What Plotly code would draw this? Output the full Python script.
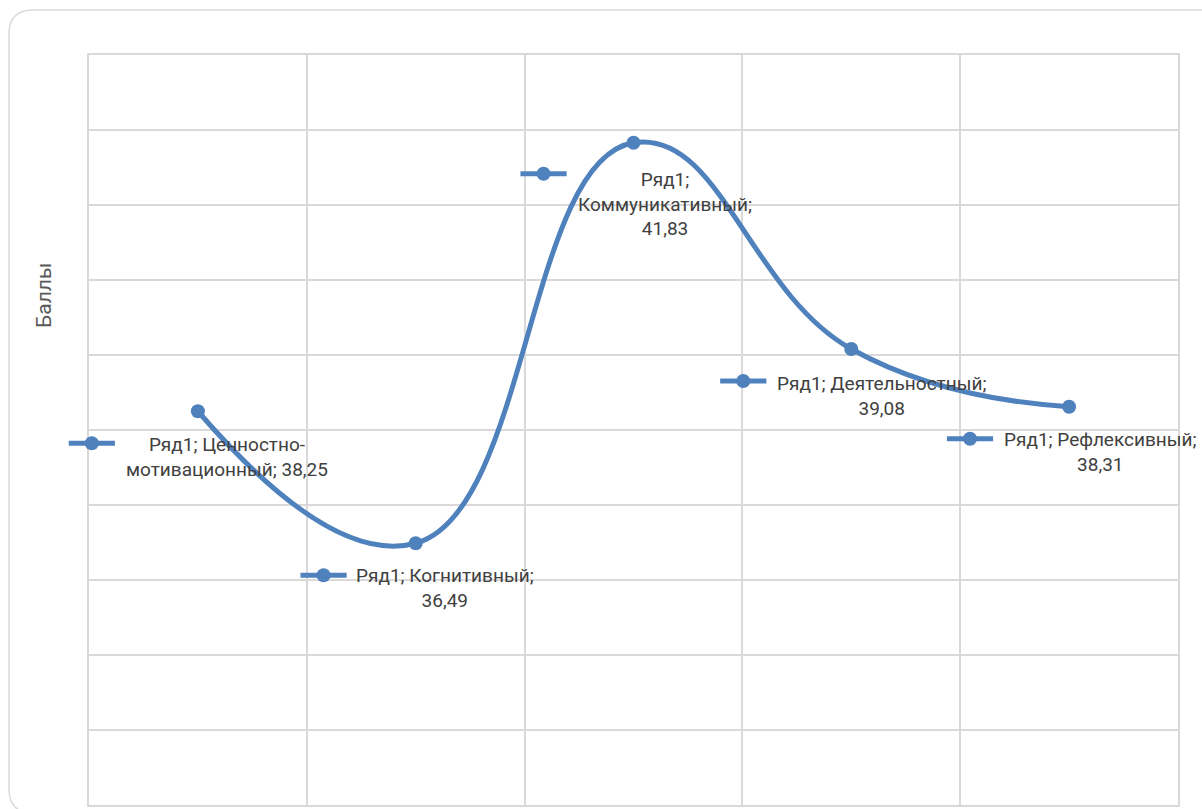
import plotly.graph_objects as go

# ---- data ----
series_name = "Ряд1"
categories = ["Ценностно-мотивационный", "Когнитивный", "Коммуникативный",
              "Деятельностный", "Рефлексивный"]
values = [38.25, 36.49, 41.83, 39.08, 38.31]
y_title = "Баллы"

# ---- styles / label placement ----
BLUE = "#4F81BD"
GRID = "#D9D9D9"
TEXT = "#404040"
FONT = "Roboto"
W, H = 1202, 809
ML, MR, MT, MB = 89, 24, 55, 4
wrap_widths = [20, 20, 16, 21, 20]
# legend-key offsets from each point, in axis units (x: categories, y: points)
key_dx = [-0.487, -0.423, -0.413, -0.496, -0.455]
key_dy = [-0.427, -0.427, -0.413, -0.427, -0.427]
# text offsets from each point, in pixels
text_dx = [29, 29, 31, 30, 31]
text_dy = [46, 45, 61, 47, 45]

pw, ph = W - ML - MR, H - MT - MB


def px_x(p):
    return (p - ML) / pw


def px_y(p):
    return (H - MB - p) / ph


def wrap(text, width):
    tokens = []
    for word in text.split(" "):
        parts = word.split("-")
        for k, part in enumerate(parts):
            tokens.append((part + ("-" if k < len(parts) - 1 else ""), k == 0))
    lines, cur = [], ""
    for tok, spaced in tokens:
        cand = (cur + (" " if spaced and cur else "") + tok) if cur else tok
        if len(cand) <= width or not cur:
            cur = cand
        else:
            lines.append(cur)
            cur = tok
    lines.append(cur)
    return "<br>".join(lines)


xs = list(range(len(categories)))

fig = go.Figure()
fig.add_trace(go.Scatter(
    x=xs, y=values, mode="lines+markers",
    name=series_name,
    line=dict(color=BLUE, width=5, shape="spline", smoothing=1.3),
    marker=dict(color=BLUE, size=14),
    hoverinfo="skip",
))

# legend keys inside the data labels
kx = [x + d for x, d in zip(xs, key_dx)]
ky = [v + d for v, d in zip(values, key_dy)]
fig.add_trace(go.Scatter(
    x=kx, y=ky, mode="markers", cliponaxis=False, hoverinfo="skip",
    marker=dict(symbol="line-ew", size=33, color=BLUE,
                line=dict(color=BLUE, width=5)),
))
fig.add_trace(go.Scatter(
    x=kx, y=ky, mode="markers", cliponaxis=False, hoverinfo="skip",
    marker=dict(symbol="circle", size=14, color=BLUE),
))

annotations = []
for i, (cat, v) in enumerate(zip(categories, values)):
    val_str = f"{v:.2f}".replace(".", ",")
    label = wrap(f"{series_name}; {cat}; {val_str}", wrap_widths[i])
    annotations.append(dict(
        x=xs[i], y=v, xref="x", yref="y", text=label, showarrow=False,
        xshift=text_dx[i], yshift=-text_dy[i], align="center",
        xanchor="center", yanchor="middle",
        font=dict(family=FONT, size=19, color=TEXT),
    ))

# y-axis title
annotations.append(dict(
    x=px_x(44), y=px_y(296), xref="paper", yref="paper", text=y_title,
    showarrow=False, textangle=-90, xanchor="center", yanchor="middle",
    font=dict(family=FONT, size=21, color="#595959"),
))

# rounded card border
l, t, r, b, rad = 9, 10, 1230, 813, 24
x0, x1 = px_x(l), px_x(r)
y0, y1 = px_y(b), px_y(t)
rx, ry = rad / pw, rad / ph
path = (f"M {x0},{y0 + ry} L {x0},{y1 - ry} Q {x0},{y1} {x0 + rx},{y1} "
        f"L {x1 - rx},{y1} Q {x1},{y1} {x1},{y1 - ry} L {x1},{y0 + ry} "
        f"Q {x1},{y0} {x1 - rx},{y0} L {x0 + rx},{y0} Q {x0},{y0} {x0},{y0 + ry} Z")
shapes = [dict(type="path", xref="paper", yref="paper", path=path,
               line=dict(color=GRID, width=1.5), layer="below")]

fig.update_layout(
    width=W, height=H,
    margin=dict(l=ML, r=MR, t=MT, b=MB),
    paper_bgcolor="white", plot_bgcolor="white",
    showlegend=False,
    annotations=annotations, shapes=shapes,
    xaxis=dict(
        range=[-0.5, len(categories) - 0.5],
        tickmode="array",
        tickvals=[i - 0.5 for i in range(len(categories) + 1)],
        showticklabels=False, ticks="",
        showgrid=True, gridcolor=GRID, gridwidth=1.5,
        showline=True, linecolor=GRID, linewidth=1.5, mirror=True,
        zeroline=False, layer="below traces",
    ),
    yaxis=dict(
        range=[33, 43], dtick=1, tick0=33,
        showticklabels=False, ticks="",
        showgrid=True, gridcolor=GRID, gridwidth=1.5,
        showline=True, linecolor=GRID, linewidth=1.5, mirror=True,
        zeroline=False, layer="below traces",
    ),
)

fig.write_html("out.html", config={"displayModeBar": False},
               post_script="document.body.style.margin='0';document.body.style.overflow='hidden';")
